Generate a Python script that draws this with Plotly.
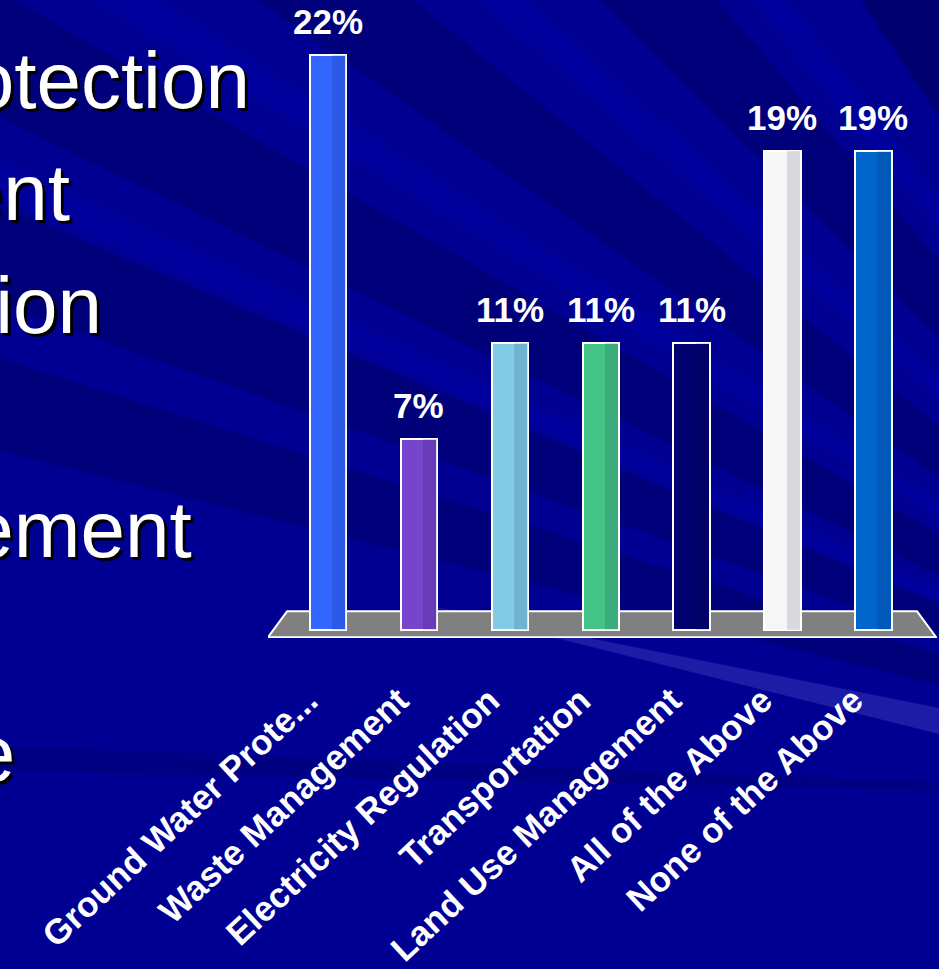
import math
import plotly.graph_objects as go

# ---------------- data ----------------
categories = ["Ground Water Prote...", "Waste Management", "Electricity Regulation",
              "Transportation", "Land Use Management", "All of the Above", "None of the Above"]
values = [22.2, 7.4, 11.1, 11.1, 11.1, 18.5, 18.5]
value_labels = ["22%", "7%", "11%", "11%", "11%", "19%", "19%"]
bar_colors = ["#3366FF", "#7744CC", "#80CCE6", "#44C486", "#00006E", "#F6F6F6", "#0066CC"]
slide_lines = ["Ground Water Protection", "Waste Management", "Electricity Regulation",
               "Transportation", "Land Use Management", "All of the above", "None of the Above"]

W, H = 939, 969
ML, MR, MT, MB = 268, 2, 0, 331
PW, PH = W - ML - MR, H - MT - MB

def paper_x(px):
    return (px - ML) / PW

def paper_y(py):
    return (H - MB - py) / PH

FONT = "Arial, Liberation Sans, sans-serif"
BG = "#000092"

fig = go.Figure()

# main bars
fig.add_trace(go.Bar(
    x=categories, y=values, width=0.4,
    marker=dict(color=bar_colors, line=dict(color="white", width=2)),
    hoverinfo="skip", showlegend=False,
))
# shading strip on the right side of each column
fig.add_trace(go.Bar(
    x=categories, y=values, width=0.15, offset=0.045,
    marker=dict(color="rgba(0,0,50,0.12)", line=dict(width=0)),
    hoverinfo="skip", showlegend=False,
))

shapes = []
# subtle background rays radiating from a point off the lower-right corner
ox, oy = 1400, 800
LIGHT = "rgba(0,0,215,0.16)"
DARK = "rgba(0,0,45,0.24)"
rays = [
    (181.2, 182.2, "rgba(0,0,45,0.14)"),
    (194.0, 197.5, DARK),
    (199.5, 203.0, DARK),
    (203.3, 204.5, LIGHT),
    (206.0, 210.0, DARK),
    (211.5, 212.8, LIGHT),
    (215.0, 219.0, DARK),
    (221.0, 222.5, LIGHT),
    (225.0, 229.5, DARK),
    (231.0, 232.5, LIGHT),
    (236.0, 250.0, "rgba(0,0,45,0.32)"),
]
R = 3000
for a1, a2, col in rays:
    p1 = (ox + R * math.cos(math.radians(a1)), oy + R * math.sin(math.radians(a1)))
    p2 = (ox + R * math.cos(math.radians(a2)), oy + R * math.sin(math.radians(a2)))
    path = "M {} {} L {} {} L {} {} Z".format(
        paper_x(ox), paper_y(oy), paper_x(p1[0]), paper_y(p1[1]), paper_x(p2[0]), paper_y(p2[1]))
    shapes.append(dict(type="path", path=path, xref="paper", yref="paper",
                       fillcolor=col, line=dict(width=0), layer="below"))
# thin light streak fading towards the floor
shapes.append(dict(
    type="path", xref="paper", yref="paper", layer="below",
    path="M {} {} L {} {} L {} {} Z".format(paper_x(420), paper_y(604), paper_x(939), paper_y(708),
                                            paper_x(939), paper_y(734)),
    fillcolor="rgba(110,110,230,0.25)", line=dict(width=0),
))

# grey floor under the columns
shapes.append(dict(
    type="path", xref="x", yref="y", layer="below",
    path="M -0.45 0.73 L 6.48 0.73 L 6.69 -0.27 L -0.66 -0.27 Z",
    fillcolor="#808080", line=dict(color="white", width=2),
))

annotations = []
for cat, val, lab in zip(categories, values, value_labels):
    annotations.append(dict(
        x=cat, y=val, xref="x", yref="y", text=lab, showarrow=False,
        yanchor="bottom", yshift=12,
        font=dict(family=FONT, size=35, color="white", weight="bold"),
    ))

# slide body text (cut off at the left edge)
line_ends = [252, 72, 104, None, 194, None, 17]
line_baselines = [108, 220, 333, 445, 557, 669, 781]
for txt, xe, yb in zip(slide_lines, line_ends, line_baselines):
    if xe is None:
        continue
    annotations.append(dict(
        x=paper_x(xe), y=paper_y(yb - 27.7), xref="paper", yref="paper",
        text=txt, showarrow=False, xanchor="right", yanchor="middle",
        font=dict(family=FONT, size=80, color="white", shadow="3px 3px 0px #000000"),
    ))

fig.update_layout(
    width=W, height=H, autosize=False,
    margin=dict(l=ML, r=MR, t=MT, b=MB, pad=0, autoexpand=False),
    paper_bgcolor=BG, plot_bgcolor="rgba(0,0,0,0)",
    barmode="overlay", bargap=0,
    shapes=shapes, annotations=annotations,
    xaxis=dict(type="category", range=[-0.66, 6.70], showgrid=False, zeroline=False,
               showline=False, ticks="", tickangle=-43, automargin=False,
               ticklabelstandoff=34, ticklabelshift=-20,
               tickfont=dict(family=FONT, size=35, color="white", weight="bold")),
    yaxis=dict(range=[-0.3, 24.33], showgrid=False, zeroline=False, showline=False,
               showticklabels=False, ticks="", automargin=False),
)

fig.write_html(
    "out.html",
    config={"displayModeBar": False},
    post_script="document.body.style.margin='0';document.body.style.background='" + BG + "';",
)
